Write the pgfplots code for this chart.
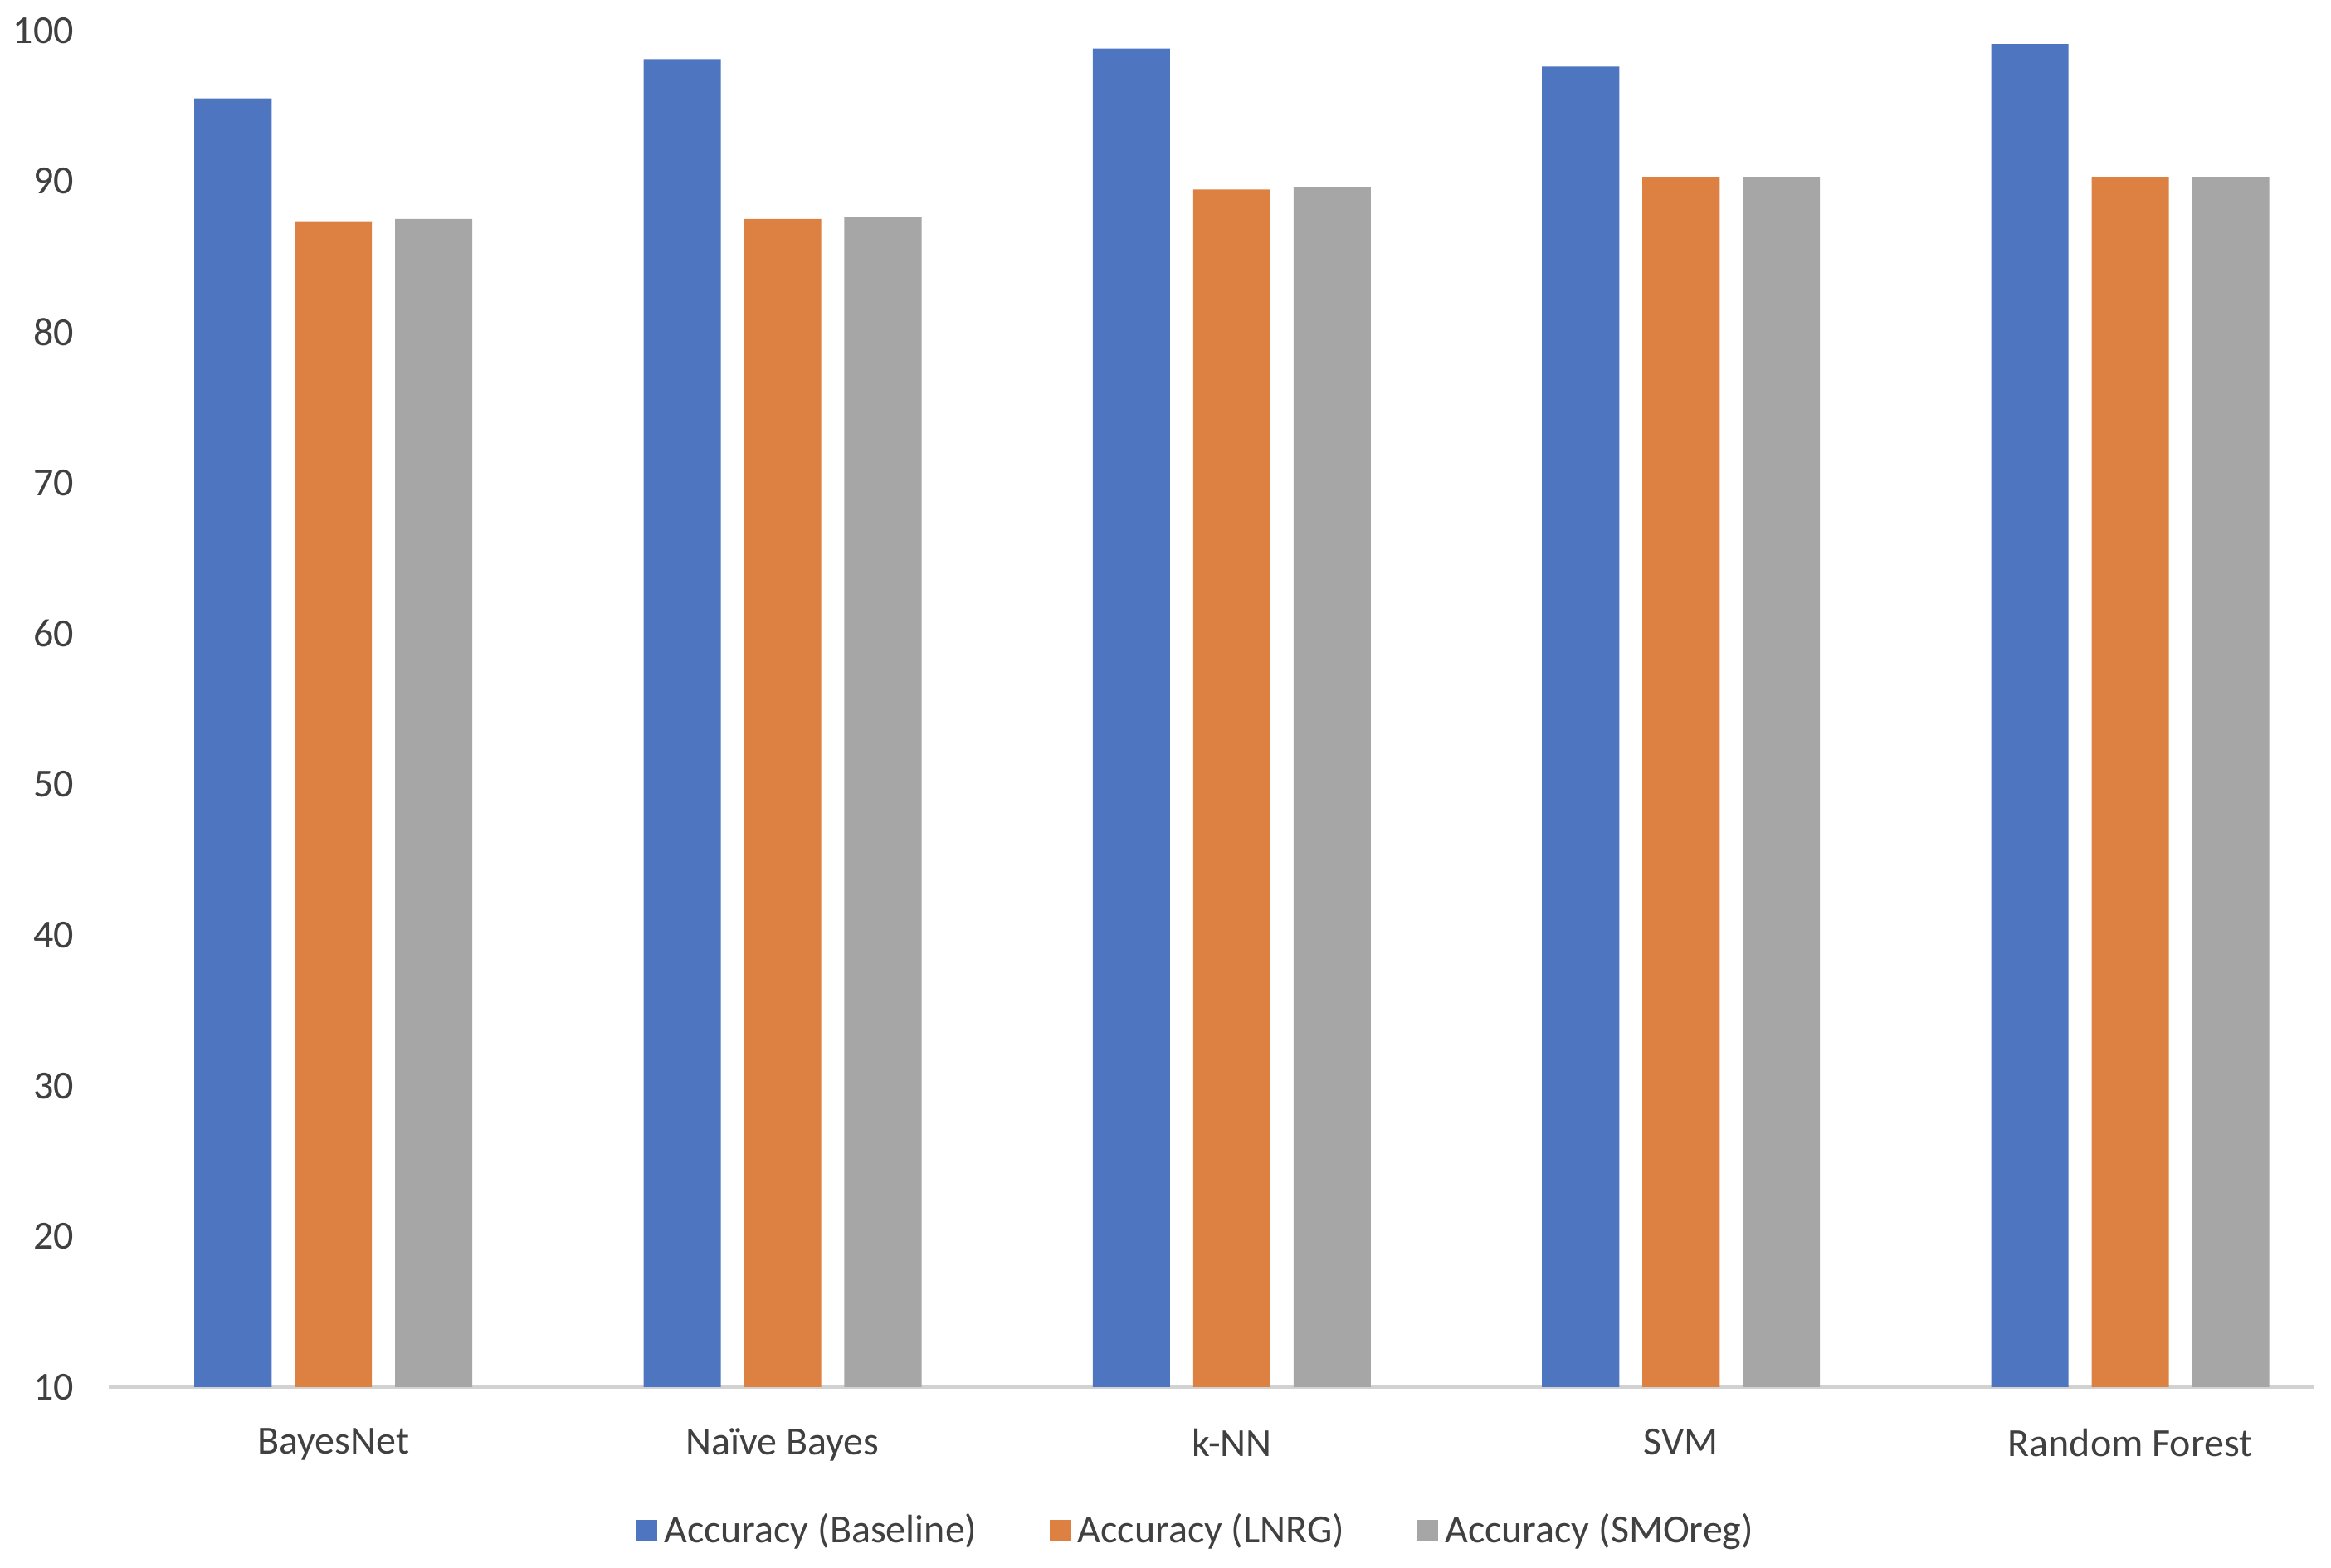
\documentclass[border=0pt]{standalone}
\usepackage{pgfplots}
\pgfplotsset{compat=1.18}
\usepackage{fontspec}
\setmainfont{Carlito}
\definecolor{cblue}{RGB}{77,117,192}
\definecolor{corange}{RGB}{221,129,67}
\definecolor{cgray}{RGB}{166,166,166}
\definecolor{ctext}{RGB}{64,64,64}
\definecolor{caxis}{RGB}{210,210,210}
\begin{document}
\begin{tikzpicture}
\path[use as bounding box] (-32.75pt,-54.5pt) rectangle (669.5pt,418pt);
\begin{axis}[
  at={(0,0)}, anchor=south west,
  scale only axis,
  width=664.5pt, height=408.8pt,
  xmin=-0.5, xmax=4.41,
  ymin=10, ymax=100,
  ytick={10,20,...,100},
  xtick={0,1,2,3,4},
  xticklabels={BayesNet, Naïve Bayes, k-NN, SVM, Random Forest},
  major tick length=0pt,
  axis x line*=bottom,
  axis y line*=left,
  x axis line style={draw=caxis, line width=1.2pt, -},
  y axis line style={draw=none},
  ybar,
  bar width=0.172,
  font=\fontsize{12}{14}\selectfont,
  tick label style={text=ctext, font=\fontsize{12}{14}\selectfont},
  /pgf/number format/assume math mode=true,
  xticklabel style={yshift=-9pt},
  yticklabel style={xshift=-7pt},
  legend columns=3,
  legend style={draw=none, fill=none, text=ctext,
    at={(0.494,-0.1058)}, anchor=center,
    font=\fontsize{12}{14}\selectfont,
    /tikz/every even column/.append style={column sep=20pt},
    inner sep=0pt},
  legend image code/.code={\path[#1, draw=none] (0pt,-3.3pt) rectangle (6.3pt,3.3pt);},
]
\addplot[fill=cblue, draw=none, bar shift=-0.2234] coordinates {(0,95.5) (1,98.1) (2,98.8) (3,97.6) (4,99.1)};
\addplot[fill=corange, draw=none, bar shift=0] coordinates {(0,87.35) (1,87.5) (2,89.45) (3,90.3) (4,90.3)};
\addplot[fill=cgray, draw=none, bar shift=0.2234] coordinates {(0,87.5) (1,87.65) (2,89.6) (3,90.3) (4,90.3)};
\legend{Accuracy (Baseline), Accuracy (LNRG), Accuracy (SMOreg)}
\end{axis}
\end{tikzpicture}
\end{document}
